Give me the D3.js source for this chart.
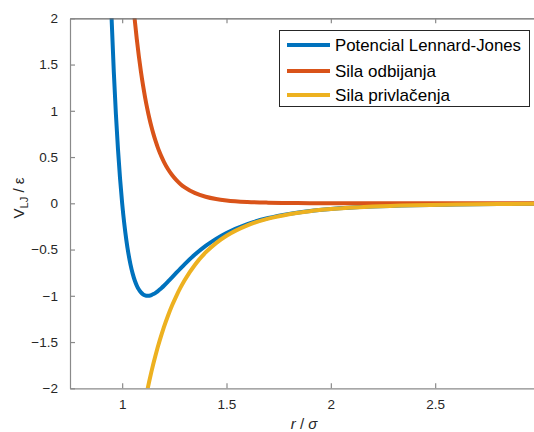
<!DOCTYPE html>
<html><head><meta charset="utf-8">
<script src="https://cdn.jsdelivr.net/npm/d3@7"></script>
<style>
html,body{margin:0;padding:0;background:#fff;}
svg{display:block;font-family:"Liberation Sans",Arial,Helvetica,sans-serif;}
</style></head>
<body>
<svg id="chart" width="534" height="432"></svg>
<script>
// r / sigma sample points
const rValues = [0.93,0.94,0.95,0.96,0.97,0.98,0.99,1.00,1.01,1.02,1.03,1.04,1.05,1.06,1.07,1.08,1.09,1.10,1.11,1.12,1.13,1.14,1.15,1.16,1.17,1.18,1.19,1.20,1.22,1.24,1.26,1.28,1.30,1.35,1.40,1.45,1.50,1.60,1.70,1.80,1.90,2.00,2.20,2.40,2.60,2.80,3.00];
// Potencial Lennard-Jones
const ljValues = [3.3732,2.6065,1.9609,1.4182,0.9628,0.5819,0.2641,0,-0.2184,-0.3979,-0.5444,-0.6629,-0.7575,-0.8320,-0.8893,-0.9322,-0.9630,-0.9834,-0.9952,-0.9998,-0.9985,-0.9921,-0.9817,-0.9679,-0.9515,-0.9328,-0.9126,-0.8910,-0.8452,-0.7977,-0.7498,-0.7027,-0.6570,-0.5516,-0.4607,-0.3841,-0.3203,-0.2242,-0.1588,-0.1141,-0.0832,-0.0615,-0.0350,-0.0208,-0.0129,-0.0083,-0.0055];
// Sila odbijanja
const repValues = [9.5556,8.4046,7.4024,6.5283,5.7649,5.0974,4.5127,4,3.5498,3.1540,2.8055,2.4984,2.2273,1.9879,1.7760,1.5885,1.4221,1.2745,1.1434,1.0267,0.9228,0.8302,0.7476,0.6739,0.6079,0.5489,0.4960,0.4486,0.3679,0.3027,0.2498,0.2068,0.1717,0.1092,0.0706,0.0463,0.0308,0.0142,0.0069,0.0035,0.0018,0.0010,0.0003,0.0001,0.00004,0.00002,0.0000];
// Sila privlacenja
const attValues = [-6.1824,-5.7981,-5.4415,-5.1101,-4.8020,-4.5155,-4.2486,-4,-3.7682,-3.5519,-3.3499,-3.1613,-2.9849,-2.8198,-2.6654,-2.5207,-2.3851,-2.2579,-2.1386,-2.0265,-1.9213,-1.8224,-1.7293,-1.6418,-1.5594,-1.4817,-1.4086,-1.3396,-1.2132,-1.1004,-0.9997,-0.9095,-0.8287,-0.6608,-0.5312,-0.4304,-0.3512,-0.2384,-0.1657,-0.1176,-0.0850,-0.0625,-0.0353,-0.0209,-0.0130,-0.0083,-0.0055];

const seriesNames = ["Potencial Lennard-Jones","Sila odbijanja","Sila privlačenja"];
const seriesColors = ["#0072BD","#D95319","#EDB120"];
const xTicks = [1,1.5,2,2.5];
const yTicks = [-2,-1.5,-1,-0.5,0,0.5,1,1.5,2];

const svg = d3.select("#chart");
const mLeft = 70, mTop = 18.3, mBottom = 388.3;
const x = d3.scaleLinear().domain([0.75,3]).range([mLeft, mLeft + 2.25*208.67]);
const y = d3.scaleLinear().domain([-2,2]).range([mBottom, mTop]);
const mRight = x(3);

svg.append("defs").append("clipPath").attr("id","clip")
  .append("rect").attr("x",mLeft).attr("y",mTop).attr("width",mRight-mLeft).attr("height",mBottom-mTop);

const allSeries = [ljValues, repValues, attValues];
const line = d3.line().x(d=>x(d[0])).y(d=>y(d[1])).curve(d3.curveMonotoneX);
const g = svg.append("g").attr("clip-path","url(#clip)");
allSeries.forEach((vals,i)=>{
  g.append("path")
    .datum(rValues.map((r,k)=>[r,vals[k]]))
    .attr("d",line)
    .attr("fill","none")
    .attr("stroke",seriesColors[i])
    .attr("stroke-width",4)
    .attr("stroke-linejoin","round");
});

const axisColor = "#8a8a8a";
const textColor = "#262626";
const xAxis = svg.append("g").attr("transform",`translate(0,${mBottom})`)
  .call(d3.axisBottom(x).tickValues(xTicks).tickSizeInner(-5).tickSizeOuter(0).tickPadding(11).tickFormat(d3.format("")));
const xAxisTop = svg.append("g").attr("transform",`translate(0,${mTop})`)
  .call(d3.axisTop(x).tickValues(xTicks).tickSizeInner(-5).tickSizeOuter(0).tickFormat(""));
const yAxis = svg.append("g").attr("transform",`translate(${mLeft},0)`)
  .call(d3.axisLeft(y).tickValues(yTicks).tickSizeInner(-5).tickSizeOuter(0).tickPadding(12).tickFormat(d3.format("")));
[xAxis,xAxisTop,yAxis].forEach(a=>{
  a.select(".domain").attr("stroke",axisColor).attr("stroke-width",1.2);
  a.selectAll(".tick line").attr("stroke",axisColor).attr("stroke-width",1.2);
  a.selectAll(".tick text").attr("fill",textColor).attr("font-size",13.5).attr("font-family","Liberation Sans, Arial, sans-serif");
});
xAxisTop.select(".domain").attr("stroke","#666");

svg.append("text").attr("x",304).attr("y",429).attr("text-anchor","middle")
  .attr("font-size",15).attr("fill",textColor)
  .html('<tspan font-style="italic">r</tspan> / <tspan font-style="italic">σ</tspan>');
const yl = svg.append("text").attr("transform","translate(24,198) rotate(-90)")
  .attr("text-anchor","middle").attr("font-size",15).attr("fill",textColor);
yl.append("tspan").text("V");
yl.append("tspan").attr("font-size",11).attr("dy",4).text("LJ");
yl.append("tspan").attr("dy",-4).text(" / ε");

const lg = svg.append("g");
lg.append("rect").attr("x",279.5).attr("y",30.5).attr("width",250).attr("height",76)
  .attr("fill","#fff").attr("stroke","#262626").attr("stroke-width",1);
const rowY = [45, 71, 95];
const textWidths = [186,101,115];
seriesNames.forEach((name,i)=>{
  lg.append("line").attr("x1",287).attr("x2",330).attr("y1",rowY[i]).attr("y2",rowY[i])
    .attr("stroke",seriesColors[i]).attr("stroke-width",4);
  lg.append("text").attr("x",335).attr("y",rowY[i]+5.5).attr("font-size",16.2).attr("fill","#000")
    .attr("textLength",textWidths[i]).attr("lengthAdjust","spacingAndGlyphs").text(name);
});
</script>
</body></html>
